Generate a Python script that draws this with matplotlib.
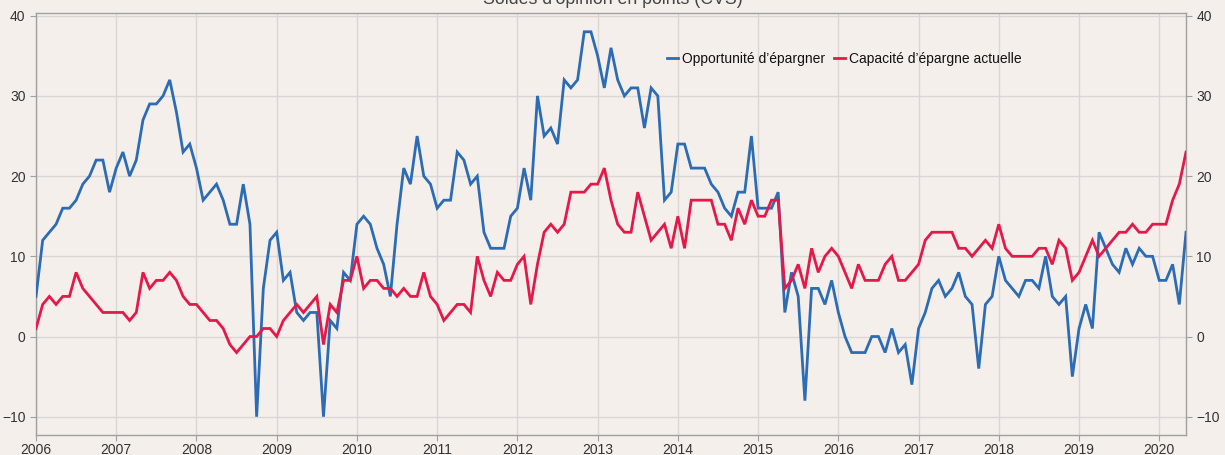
import numpy as np
import matplotlib
matplotlib.use("Agg")
import matplotlib.pyplot as plt

plt.rcParams['font.family'] = ['Liberation Sans', 'DejaVu Sans']

start_year = 2006
opportunite = [
    5, 12, 13, 14, 16, 16, 17, 19, 20, 22, 22, 18,      # 2006
    21, 23, 20, 22, 27, 29, 29, 30, 32, 28, 23, 24,     # 2007
    21, 17, 18, 19, 17, 14, 14, 19, 14, -10, 6, 12,     # 2008
    13, 7, 8, 3, 2, 3, 3, -10, 2, 1, 8, 7,              # 2009
    14, 15, 14, 11, 9, 5, 14, 21, 19, 25, 20, 19,       # 2010
    16, 17, 17, 23, 22, 19, 20, 13, 11, 11, 11, 15,     # 2011
    16, 21, 17, 30, 25, 26, 24, 32, 31, 32, 38, 38,     # 2012
    35, 31, 36, 32, 30, 31, 31, 26, 31, 30, 17, 18,     # 2013
    24, 24, 21, 21, 21, 19, 18, 16, 15, 18, 18, 25,     # 2014
    16, 16, 16, 18, 3, 8, 5, -8, 6, 6, 4, 7,            # 2015
    3, 0, -2, -2, -2, 0, 0, -2, 1, -2, -1, -6,          # 2016
    1, 3, 6, 7, 5, 6, 8, 5, 4, -4, 4, 5,                # 2017
    10, 7, 6, 5, 7, 7, 6, 10, 5, 4, 5, -5,              # 2018
    1, 4, 1, 13, 11, 9, 8, 11, 9, 11, 10, 10,           # 2019
    7, 7, 9, 4, 13,                                     # 2020
]
capacite = [
    1, 4, 5, 4, 5, 5, 8, 6, 5, 4, 3, 3,                 # 2006
    3, 3, 2, 3, 8, 6, 7, 7, 8, 7, 5, 4,                 # 2007
    4, 3, 2, 2, 1, -1, -2, -1, 0, 0, 1, 1,              # 2008
    0, 2, 3, 4, 3, 4, 5, -1, 4, 3, 7, 7,                # 2009
    10, 6, 7, 7, 6, 6, 5, 6, 5, 5, 8, 5,                # 2010
    4, 2, 3, 4, 4, 3, 10, 7, 5, 8, 7, 7,                # 2011
    9, 10, 4, 9, 13, 14, 13, 14, 18, 18, 18, 19,        # 2012
    19, 21, 17, 14, 13, 13, 18, 15, 12, 13, 14, 11,     # 2013
    15, 11, 17, 17, 17, 17, 14, 14, 12, 16, 14, 17,     # 2014
    15, 15, 17, 17, 6, 7, 9, 6, 11, 8, 10, 11,          # 2015
    10, 8, 6, 9, 7, 7, 7, 9, 10, 7, 7, 8,               # 2016
    9, 12, 13, 13, 13, 13, 11, 11, 10, 11, 12, 11,      # 2017
    14, 11, 10, 10, 10, 10, 11, 11, 9, 12, 11, 7,       # 2018
    8, 10, 12, 10, 11, 12, 13, 13, 14, 13, 13, 14,      # 2019
    14, 14, 17, 19, 23,                                 # 2020
]
year_ticks = list(range(2006, 2021))
y_ticks = [-10, 0, 10, 20, 30, 40]
title = "Soldes d'opinion en points (CVS)"
labels = ["Opportunité d’épargner", "Capacité d’épargne actuelle"]

bg = "#F5EFEC"
blue = "#2B6CB5"
red = "#E5184A"
spine_col = "#A0A0A0"
grid_col = "#D9D6D4"
text_col = "#333333"

x = start_year + np.arange(len(opportunite)) / 12.0

fig = plt.figure(figsize=(12.25, 4.55), dpi=100, facecolor=bg)
ax = fig.add_axes([36/1225, 1-435/455, (1186-36)/1225, (435-13)/455])
ax.set_facecolor(bg)

ax.plot(x, opportunite, color=blue, lw=2.0, label=labels[0], solid_joinstyle='miter', zorder=3)
ax.plot(x, capacite, color=red, lw=2.0, label=labels[1], solid_joinstyle='miter', zorder=3)

ax.set_xlim(start_year, x[-1])
ax.set_ylim(-12.28, 40.34)
ax.set_xticks(year_ticks)
ax.set_xticklabels([str(y) for y in year_ticks])
ax.set_yticks(y_ticks)
ax.set_yticklabels([str(v).replace('-', '\u2212') for v in y_ticks])
ax.grid(True, color=grid_col, lw=1.0, zorder=0)

for s in ax.spines.values():
    s.set_color(spine_col)
    s.set_linewidth(1.0)
ax.tick_params(axis='both', colors=spine_col, labelcolor=text_col, labelsize=10, length=4, width=0.8)
ax.tick_params(axis='x', pad=2)

ax2 = ax.twinx()
ax2.set_ylim(ax.get_ylim())
ax2.set_yticks(y_ticks)
ax2.set_yticklabels([str(v).replace('-', '\u2212') for v in y_ticks])
ax2.tick_params(axis='y', colors=spine_col, labelcolor=text_col, labelsize=10, length=4, width=0.8)
for s in ax2.spines.values():
    s.set_visible(False)

leg = ax.legend(loc='center', bbox_to_anchor=(0.703, 0.891), ncol=2, frameon=False,
                fontsize=10, handlelength=0.8, handletextpad=0.3, columnspacing=0.6)
for t in leg.get_texts():
    t.set_color('#111111')

fig.text(0.5, 1 - 4/455, title, ha='center', va='baseline', fontsize=12.8, color='#444444')

fig.savefig("out.png", dpi=100, facecolor=bg)
